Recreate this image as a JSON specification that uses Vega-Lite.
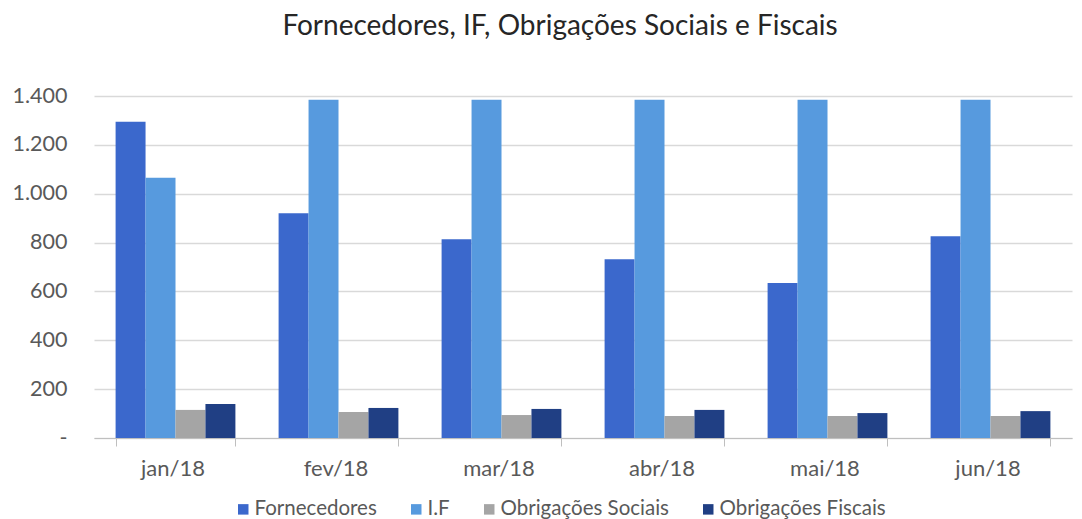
{
  "$schema": "https://vega.github.io/schema/vega-lite/v6.json",
  "autosize": {"type": "none"},
  "width": 978,
  "height": 342,
  "padding": {"left": 94, "top": 96, "right": 10, "bottom": 81},
  "background": "white",
  "title": {
    "text": "Fornecedores, IF, Obrigações Sociais e Fiscais",
    "fontSize": 28,
    "font": "Lato",
    "fontWeight": "normal",
    "color": "#262626",
    "anchor": "middle",
    "dx": -23,
    "offset": 44
  },
  "data": {
    "values": [
      {"mes": "jan/18", "serie": "Fornecedores", "valor": 1295},
      {"mes": "jan/18", "serie": "I.F", "valor": 1065},
      {"mes": "jan/18", "serie": "Obrigações Sociais", "valor": 115},
      {"mes": "jan/18", "serie": "Obrigações Fiscais", "valor": 139},
      {"mes": "fev/18", "serie": "Fornecedores", "valor": 920},
      {"mes": "fev/18", "serie": "I.F", "valor": 1385},
      {"mes": "fev/18", "serie": "Obrigações Sociais", "valor": 106},
      {"mes": "fev/18", "serie": "Obrigações Fiscais", "valor": 123},
      {"mes": "mar/18", "serie": "Fornecedores", "valor": 814},
      {"mes": "mar/18", "serie": "I.F", "valor": 1385},
      {"mes": "mar/18", "serie": "Obrigações Sociais", "valor": 94},
      {"mes": "mar/18", "serie": "Obrigações Fiscais", "valor": 119},
      {"mes": "abr/18", "serie": "Fornecedores", "valor": 732},
      {"mes": "abr/18", "serie": "I.F", "valor": 1385},
      {"mes": "abr/18", "serie": "Obrigações Sociais", "valor": 90},
      {"mes": "abr/18", "serie": "Obrigações Fiscais", "valor": 115},
      {"mes": "mai/18", "serie": "Fornecedores", "valor": 634},
      {"mes": "mai/18", "serie": "I.F", "valor": 1385},
      {"mes": "mai/18", "serie": "Obrigações Sociais", "valor": 90},
      {"mes": "mai/18", "serie": "Obrigações Fiscais", "valor": 102},
      {"mes": "jun/18", "serie": "Fornecedores", "valor": 826},
      {"mes": "jun/18", "serie": "I.F", "valor": 1385},
      {"mes": "jun/18", "serie": "Obrigações Sociais", "valor": 90},
      {"mes": "jun/18", "serie": "Obrigações Fiscais", "valor": 110}
    ]
  },
  "mark": {"type": "bar", "xOffset": 5},
  "encoding": {
    "x": {
      "field": "mes",
      "type": "nominal",
      "sort": ["jan/18", "fev/18", "mar/18", "abr/18", "mai/18", "jun/18"],
      "scale": {"paddingInner": 0.265, "paddingOuter": 0.1325},
      "axis": {
        "title": null,
        "labelAngle": 0,
        "labelFont": "Lato",
        "labelFontSize": 22,
        "labelColor": "#595959",
        "labelPadding": 12,
        "labelOffset": -3,
        "domainColor": "#bfbfbf",
        "tickColor": "#bfbfbf",
        "tickBand": "extent",
        "tickSize": 8,
        "grid": false
      }
    },
    "xOffset": {
      "field": "serie",
      "sort": ["Fornecedores", "I.F", "Obrigações Sociais", "Obrigações Fiscais"],
      "scale": {"paddingInner": 0}
    },
    "y": {
      "field": "valor",
      "type": "quantitative",
      "scale": {"domain": [0, 1400]},
      "axis": {
        "title": null,
        "values": [0, 200, 400, 600, 800, 1000, 1200, 1400],
        "labelExpr": "datum.value == 0 ? '-' : replace(format(datum.value, ','), ',', '.')",
        "labelFont": "Lato",
        "labelFontSize": 21.5,
        "labelColor": "#595959",
        "labelPadding": 27,
        "domain": false,
        "ticks": false,
        "gridColor": "#d9d9d9",
        "gridWidth": 1.5
      }
    },
    "color": {
      "field": "serie",
      "type": "nominal",
      "sort": ["Fornecedores", "I.F", "Obrigações Sociais", "Obrigações Fiscais"],
      "scale": {
        "domain": ["Fornecedores", "I.F", "Obrigações Sociais", "Obrigações Fiscais"],
        "range": ["#3b68cc", "#579ade", "#a5a5a5", "#203f84"]
      },
      "legend": {
        "title": null,
        "orient": "none",
        "direction": "horizontal",
        "legendX": 139,
        "legendY": 403,
        "symbolType": "square",
        "symbolSize": 110,
        "labelOffset": 1,
        "labelFont": "Lato",
        "labelFontSize": 20.5,
        "labelColor": "#595959",
        "labelLimit": 400,
        "columnPadding": 29,
        "symbolStrokeWidth": 0
      }
    }
  },
  "config": {"view": {"stroke": null}}
}
